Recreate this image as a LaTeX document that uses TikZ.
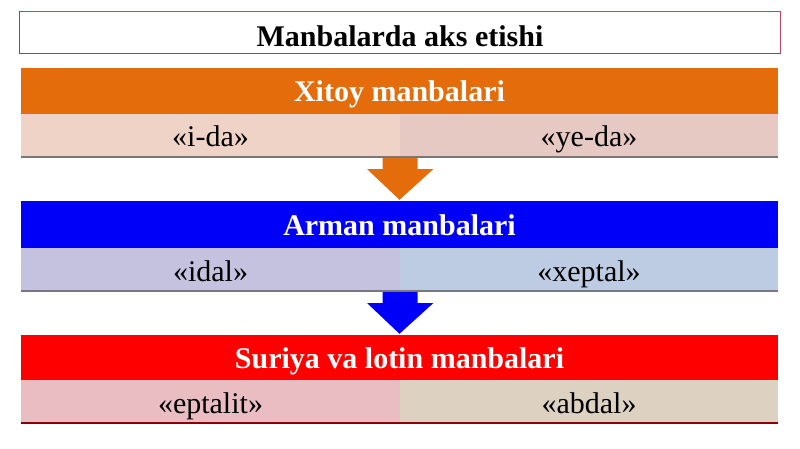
\documentclass[tikz,border=0pt]{standalone}
\usepackage{fontspec}
\setmainfont{Liberation Serif}
\usetikzlibrary{calc}
\definecolor{orangeC}{RGB}{228,108,10}
\definecolor{xlC}{RGB}{240,211,199}
\definecolor{xrC}{RGB}{229,201,194}
\definecolor{blueC}{RGB}{0,0,250}
\definecolor{alC}{RGB}{196,194,222}
\definecolor{arC}{RGB}{189,204,227}
\definecolor{redC}{RGB}{255,0,0}
\definecolor{slC}{RGB}{233,189,194}
\definecolor{srC}{RGB}{221,210,194}
\definecolor{titleB}{RGB}{185,70,100}
\definecolor{titleG}{RGB}{100,90,95}
\definecolor{shadowC}{RGB}{120,120,120}
\tikzset{
  bar/.style={rectangle, inner sep=0pt, minimum width=757, minimum height=46,
    text height=22, text depth=0,
    text=white, font=\fontsize{30}{36}\selectfont\bfseries},
  half/.style={rectangle, inner sep=0pt, minimum height=42,
    text height=24, text depth=0,
    text=black, font=\fontsize{30}{36}\selectfont},
  titlebox/.style={rectangle, fill=white, inner sep=0pt,
    text height=29, text depth=0,
    minimum width=761, minimum height=42, font=\fontsize{30}{36}\selectfont\bfseries},
  edgeline/.style={line width=1pt},
  shadowline/.style={draw=shadowC, line width=2pt},
}
\begin{document}
\begin{tikzpicture}[x=1pt,y=-1pt]
\useasboundingbox (0,0) rectangle (800,449);
\fill[white] (0,0) rectangle (800,449);
% title
\node[titlebox] (title) at (400,32.5) {Manbalarda aks etishi};
\draw[edgeline, draw=titleB] (title.south east) -- (title.north east) -- (title.north west);
\draw[edgeline, draw=titleG] (title.north west) -- (title.south west) -- (title.south east);
% Xitoy
\node[bar, fill=orangeC] (hx) at (399.5,91) {Xitoy manbalari};
\node[half, fill=xlC, minimum width=379] (xl) at (210.5,135) {«i-da»};
\node[half, fill=xrC, minimum width=378] (xr) at (589,135) {«ye-da»};
\draw[shadowline] ([yshift=-1]xl.south west) -- ([yshift=-1]xr.south east);
% Arman
\node[bar, fill=blueC, minimum height=47] (ha) at (399.5,224.5) {Arman manbalari};
\node[half, fill=alC, minimum width=379] (al) at (210.5,269) {«idal»};
\node[half, fill=arC, minimum width=378] (ar) at (589,269) {«xeptal»};
\draw[shadowline] ([yshift=-1]al.south west) -- ([yshift=-1]ar.south east);
% Suriya
\node[bar, fill=redC, minimum height=45] (hs) at (399.5,357.5) {Suriya va lotin manbalari};
\node[half, fill=slC, minimum width=379] (sl) at (210.5,401) {«eptalit»};
\node[half, fill=srC, minimum width=378] (sr) at (589,401) {«abdal»};
\draw[draw=red!55!black, line width=2pt] ([yshift=-1]sl.south west) -- ([yshift=-1]sr.south east);
% arrows
\fill[orangeC] ($(xl.south east)+(-17.5,2)$) -- ($(xl.south east)+(17.5,2)$)
  -- ($(xl.south east)+(17.5,13)$) -- ($(xl.south east)+(33,13)$)
  -- ([yshift=1]ha.north) -- ($(xl.south east)+(-33,13)$)
  -- ($(xl.south east)+(-17.5,13)$) -- cycle;
\fill[blueC] ($(al.south east)+(-17.5,2)$) -- ($(al.south east)+(17.5,2)$)
  -- ($(al.south east)+(17.5,13)$) -- ($(al.south east)+(33,13)$)
  -- ([yshift=1]hs.north) -- ($(al.south east)+(-33,13)$)
  -- ($(al.south east)+(-17.5,13)$) -- cycle;
\end{tikzpicture}
\end{document}
